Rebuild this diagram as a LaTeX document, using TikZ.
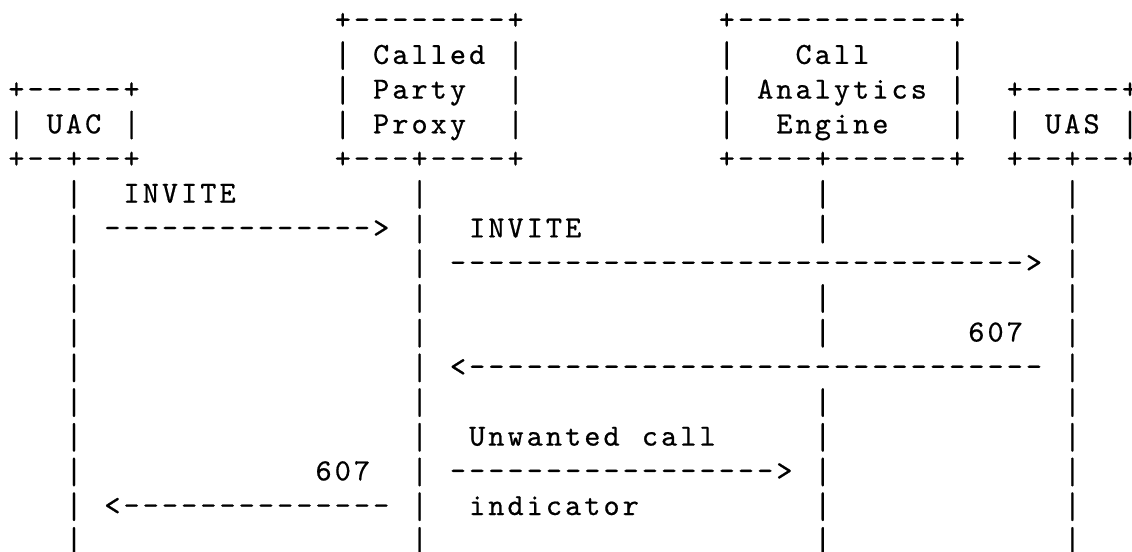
\documentclass[tikz,border=0pt]{standalone}
\usepackage{fontspec}
\usepackage{graphicx}
\newfontfamily\asciifont[FakeBold=0.6]{lmmono10-regular.otf}
% one character per fixed-width cell ("." stands for a blank cell)
\newcommand\gscell[1]{\makebox[14.4pt][c]{\ifx.#1\else\ifx|#1\raisebox{-2.2pt}{\scalebox{1}[1.2]{|}}\else#1\fi\fi}}
\def\gs#1{\ifx\relax#1\else\gscell{#1}\expandafter\gs\fi}
\tikzset{
  seg/.style={anchor=base west, inner sep=0pt, outer sep=0pt,
    font=\asciifont\fontsize{23pt}{23pt}\selectfont, text=black},
}
% \seg{name}{column}{row}{characters}
\newcommand\seg[4]{\node[seg] (#1) at ({6.8+19.2*#2},{29.2+34.7*#3}) {\gs #4\relax};}
\begin{document}
\begin{tikzpicture}[x=0.75pt,y=-0.75pt]
\fill[white] (0,0) rectangle (1132,552);
\useasboundingbox (0,0) rectangle (1132,552);
% boxes
\seg{calledT}{17}{0}{+--------+}
\seg{engineT}{37}{0}{+-----------+}
\seg{calledA}{17}{1}{|.Called.|}
\seg{engineA}{37}{1}{|...Call....|}
\seg{uacT}{0}{2}{+-----+}
\seg{calledB}{17}{2}{|.Party..|}
\seg{engineB}{37}{2}{|.Analytics.|}
\seg{uasT}{52}{2}{+-----+}
\seg{uac}{0}{3}{|.UAC.|}
\seg{calledC}{17}{3}{|.Proxy..|}
\seg{engineC}{37}{3}{|..Engine...|}
\seg{uas}{52}{3}{|.UAS.|}
\seg{uacB}{0}{4}{+--+--+}
\seg{calledD}{17}{4}{+---+----+}
\seg{engineD}{37}{4}{+----+------+}
\seg{uasB}{52}{4}{+--+--+}
% lifelines
\foreach \r in {5,...,15}{
  \seg{llA\r}{3}{\r}{|}
  \seg{llB\r}{21}{\r}{|}
  \seg{llD\r}{55}{\r}{|}
}
\foreach \r in {5,6,8,9,11,12,13,14,15}{
  \seg{llC\r}{42}{\r}{|}
}
% messages
\seg{m1}{6}{5}{INVITE}
\seg{a1}{5}{6}{-------------->}
\seg{m2}{24}{6}{INVITE}
\seg{a2}{23}{7}{------------------------------>}
\seg{m3}{50}{9}{607}
\seg{a3}{23}{10}{<------------------------------}
\seg{m4}{24}{12}{Unwanted.call}
\seg{m5}{16}{13}{607}
\seg{a4}{23}{13}{----------------->}
\seg{a5}{5}{14}{<--------------}
\seg{m6}{24}{14}{indicator}
\end{tikzpicture}
\end{document}
